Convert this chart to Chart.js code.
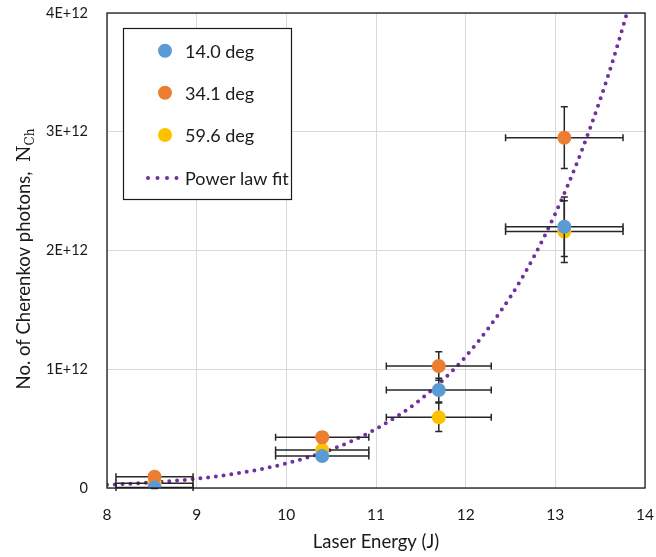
<!DOCTYPE html>
<html>
<head>
<meta charset="utf-8">
<script src="https://cdn.jsdelivr.net/npm/chart.js@4.4.0/dist/chart.umd.min.js"></script>
<style>
	html, body { margin: 0; padding: 0; background: #fff; }
	#wrap { width: 656px; height: 557px; }
</style>
</head>
<body>
<div id="wrap"><canvas id="myChart" width="656" height="557"></canvas></div>
<script>
/* Datos */
const energia = [8.53, 10.40, 11.70, 13.10];
const errEnergia = [0.43, 0.52, 0.585, 0.655];

const fotones14 = [0.005e12, 0.27e12, 0.825e12, 2.20e12];
const err14 = [0.01e12, 0.03e12, 0.10e12, 0.25e12];
const fotones34 = [0.095e12, 0.427e12, 1.027e12, 2.95e12];
const err34 = [0.015e12, 0.045e12, 0.12e12, 0.26e12];
const fotones59 = [0.04e12, 0.32e12, 0.595e12, 2.16e12];
const err59 = [0.01e12, 0.035e12, 0.12e12, 0.26e12];

/* Curva de ajuste (puntos leidos sobre la linea punteada) */
const ajusteX = [8, 8.5, 9, 9.5, 10, 10.5, 11, 11.5, 12, 12.5, 12.75, 13, 13.25, 13.5, 13.65, 13.8];
const ajusteY = [0.0265e12, 0.0464e12, 0.0784e12, 0.129e12, 0.207e12, 0.324e12, 0.497e12, 0.748e12,
	1.107e12, 1.611e12, 1.933e12, 2.311e12, 2.754e12, 3.271e12, 3.62e12, 4.003e12];

const etiquetas = ['14.0 deg', '34.1 deg', '59.6 deg', 'Power law fit'];
const colores = ['#5B9BD5', '#ED7D31', '#FFC000', '#7030A0'];

const fuente = 'Lato, "Open Sans", sans-serif';
const texto = '#1a1a1a';

function armarSerie(valores, errores) {
	return energia.map((x, i) => ({ x: x, y: valores[i], xErr: errEnergia[i], yErr: errores[i] }));
}

/* Barras de error, dibujadas antes de cada serie */
const barrasError = {
	id: 'barrasError',
	beforeDatasetDraw(chart, args) {
		const ds = chart.data.datasets[args.index];
		if (!ds.conError) return;
		const ctx = chart.ctx;
		const sx = chart.scales.x;
		const sy = chart.scales.y;
		const cap = 3.5;
		ctx.save();
		ctx.strokeStyle = '#262626';
		ctx.lineWidth = 1.5;
		for (const p of ds.data) {
			const px = sx.getPixelForValue(p.x);
			const py = sy.getPixelForValue(p.y);
			const x1 = sx.getPixelForValue(p.x - p.xErr);
			const x2 = sx.getPixelForValue(p.x + p.xErr);
			const y1 = sy.getPixelForValue(p.y + p.yErr);
			const y2 = sy.getPixelForValue(p.y - p.yErr);
			ctx.beginPath();
			ctx.moveTo(x1, py); ctx.lineTo(x2, py);
			ctx.moveTo(x1, py - cap); ctx.lineTo(x1, py + cap);
			ctx.moveTo(x2, py - cap); ctx.lineTo(x2, py + cap);
			ctx.moveTo(px, y1); ctx.lineTo(px, y2);
			ctx.moveTo(px - cap, y1); ctx.lineTo(px + cap, y1);
			ctx.moveTo(px - cap, y2); ctx.lineTo(px + cap, y2);
			ctx.stroke();
		}
		ctx.restore();
	}
};

/* Marco, titulo del eje Y y leyenda */
const extras = {
	id: 'extras',
	afterDraw(chart) {
		const ctx = chart.ctx;
		const a = chart.chartArea;
		ctx.save();

		// marco del area de grafico
		ctx.strokeStyle = texto;
		ctx.lineWidth = 1.3;
		ctx.strokeRect(a.left, a.top, a.right - a.left, a.bottom - a.top);

		// titulo eje Y con subindice
		ctx.fillStyle = texto;
		ctx.translate(24, 259);
		ctx.rotate(-Math.PI / 2);
		const t1 = 'No. of Cherenkov photons,  ';
		ctx.font = '18.5px ' + fuente;
		const w1 = ctx.measureText(t1).width;
		ctx.font = '19px "DejaVu Serif", serif';
		const w2 = ctx.measureText('N').width;
		ctx.font = '12px "DejaVu Serif", serif';
		const w3 = ctx.measureText('Ch').width;
		let xx = -(w1 + w2 + w3) / 2;
		ctx.textBaseline = 'alphabetic';
		ctx.font = '18.5px ' + fuente;
		ctx.fillText(t1, xx, 6);
		xx += w1;
		ctx.font = '19px "DejaVu Serif", serif';
		ctx.fillText('N', xx, 6);
		xx += w2;
		ctx.font = '12px "DejaVu Serif", serif';
		ctx.fillText('Ch', xx, 10);
		ctx.restore();

		// leyenda
		ctx.save();
		ctx.fillStyle = '#fff';
		ctx.fillRect(123.5, 28.5, 168, 171);
		ctx.strokeStyle = texto;
		ctx.lineWidth = 1.2;
		ctx.strokeRect(123.5, 28.5, 168, 171);
		const filas = [50.7, 92.7, 135, 178];
		ctx.font = '18px ' + fuente;
		ctx.textBaseline = 'middle';
		for (let i = 0; i < etiquetas.length; i++) {
			ctx.fillStyle = colores[i];
			if (i < 3) {
				ctx.beginPath();
				ctx.arc(165, filas[i], 7, 0, Math.PI * 2);
				ctx.fill();
			} else {
				for (let k = 0; k < 4; k++) {
					ctx.beginPath();
					ctx.arc(148 + k * 9.5, filas[i], 2, 0, Math.PI * 2);
					ctx.fill();
				}
			}
			ctx.fillStyle = texto;
			ctx.fillText(etiquetas[i], 185, filas[i] + 1);
		}
		ctx.restore();
	}
};

const ctx = document.getElementById('myChart');
const myChart = new Chart(ctx, {
	type: 'scatter',
	data: {
		datasets: [
			{ label: etiquetas[0], data: armarSerie(fotones14, err14), conError: true,
				backgroundColor: colores[0], borderColor: colores[0], borderWidth: 0, pointRadius: 7 },
			{ label: etiquetas[1], data: armarSerie(fotones34, err34), conError: true,
				backgroundColor: colores[1], borderColor: colores[1], borderWidth: 0, pointRadius: 7 },
			{ label: etiquetas[2], data: armarSerie(fotones59, err59), conError: true,
				backgroundColor: colores[2], borderColor: colores[2], borderWidth: 0, pointRadius: 7 },
			{ label: etiquetas[3], data: ajusteX.map((x, i) => ({ x: x, y: ajusteY[i] })),
				showLine: true, pointRadius: 0, borderColor: colores[3], borderWidth: 4,
				borderDash: [0, 7.8], borderCapStyle: 'round', cubicInterpolationMode: 'monotone' }
		]
	},
	options: {
		responsive: false,
		animation: false,
		events: [],
		layout: { padding: { top: 13, right: 10, left: 0, bottom: 0 } },
		plugins: {
			legend: { display: false },
			tooltip: { enabled: false }
		},
		scales: {
			x: {
				type: 'linear',
				min: 8, max: 14,
				afterFit: s => { s.height = 69; },
				grid: { color: '#d9d9d9', lineWidth: 1, drawTicks: true, tickLength: 16, tickColor: 'rgba(0,0,0,0)' },
				border: { display: false },
				ticks: { stepSize: 1, padding: 2, color: texto, font: { family: fuente, size: 15.5 } },
				title: { display: true, text: 'Laser Energy (J)', color: texto,
					font: { family: fuente, size: 18.5 }, padding: { top: 0, bottom: 4 } }
			},
			y: {
				type: 'linear',
				min: 0, max: 4e12,
				afterFit: s => { s.width = 107; },
				grid: { color: '#d9d9d9', lineWidth: 1, drawTicks: true, tickLength: 17, tickColor: 'rgba(0,0,0,0)' },
				border: { display: false },
				ticks: {
					stepSize: 1e12, padding: 2, color: texto, font: { family: fuente, size: 14.5 },
					callback: v => v === 0 ? '0' : (v / 1e12) + 'E+12'
				}
			}
		}
	},
	plugins: [barrasError, extras]
});
</script>
</body>
</html>
